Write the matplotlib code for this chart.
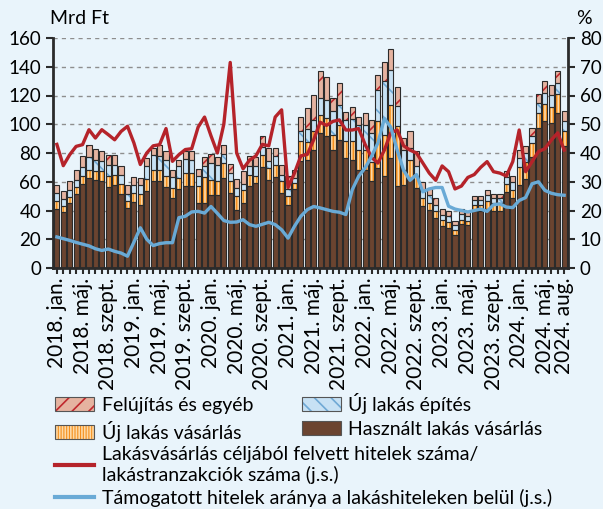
import numpy as np
import matplotlib
matplotlib.use('Agg')
import matplotlib.pyplot as plt
from matplotlib.patches import Patch
from matplotlib.lines import Line2D

plt.rcParams['font.family'] = ['Lato', 'DejaVu Sans']
plt.rcParams['hatch.linewidth'] = 1.2

# Havi adatok: 2018. jan. - 2024. aug. (80 hónap)
hasznalt = [41.3, 39.0, 45.2, 51.5, 58.7, 62.4, 61.4, 60.3, 56.1, 58.0,
            51.7, 41.7, 45.7, 44.0, 53.3, 60.8, 60.8, 56.3, 48.7, 55.0,
            56.8, 57.3, 45.2, 45.2, 51.0, 51.0, 62.6, 52.2, 40.6, 45.2,
            56.8, 59.1, 70.3, 61.4, 63.1, 52.2, 44.0, 55.0, 74.2, 75.0,
            81.9, 93.9, 92.0, 82.3, 89.3, 76.5, 74.9, 68.4, 68.4, 60.3,
            69.6, 63.8, 76.5, 56.8, 58.0, 62.6, 55.7, 43.0, 40.5, 35.0,
            29.5, 28.0, 23.0, 30.5, 30.0, 40.0, 39.4, 41.0, 40.0, 40.0,
            52.6, 48.7, 58.0, 62.0, 77.0, 97.4, 102.0, 101.0, 107.8, 85.0]
uj_vasarlas = [5.1, 3.9, 4.2, 4.6, 5.1, 6.0, 6.1, 6.9, 7.7, 6.5,
               7.0, 4.7, 6.5, 7.7, 8.8, 7.6, 7.6, 7.5, 7.0, 7.6,
               9.3, 8.8, 11.8, 18.1, 10.4, 9.3, 10.4, 8.1, 9.3, 9.3,
               8.1, 4.7, 8.5, 8.2, 8.8, 8.1, 6.0, 4.1, 13.9, 13.0,
               13.1, 12.8, 12.3, 10.5, 10.4, 12.1, 13.2, 13.9, 13.9, 13.2,
               32.4, 29.0, 37.1, 41.8, 10.0, 12.8, 8.1, 6.0, 5.0, 4.5,
               4.0, 4.0, 3.5, 3.0, 3.0, 4.0, 4.6, 5.5, 5.0, 5.0,
               5.9, 5.8, 12.5, 12.0, 10.0, 10.6, 12.0, 11.0, 13.2, 10.0]
uj_epites = [5.8, 5.1, 4.9, 5.3, 6.5, 8.6, 7.9, 7.0, 7.6, 6.9,
             6.3, 5.1, 5.8, 6.3, 8.6, 10.0, 9.7, 11.6, 7.6, 8.1,
             9.7, 9.3, 7.0, 7.4, 11.6, 11.6, 6.3, 5.8, 5.8, 4.2,
             5.8, 6.9, 5.4, 4.6, 5.8, 4.6, 5.0, 3.5, 6.9, 9.0,
             8.2, 11.6, 12.8, 16.2, 13.9, 14.1, 15.6, 17.4, 17.4, 20.4,
             22.0, 37.1, 24.4, 13.9, 14.0, 8.1, 6.9, 5.0, 5.5, 4.5,
             3.5, 4.0, 3.5, 4.0, 3.0, 3.0, 3.0, 4.0, 3.5, 3.7,
             4.5, 5.5, 6.0, 6.0, 5.0, 7.0, 8.0, 8.5, 8.0, 7.0]
felujitas = [5.3, 5.3, 6.0, 7.0, 7.4, 8.3, 7.4, 7.2, 7.0, 7.0,
             5.7, 6.0, 5.5, 4.6, 5.8, 5.1, 7.2, 6.2, 5.1, 4.2,
             5.4, 5.8, 4.9, 6.3, 6.3, 5.3, 6.5, 6.2, 6.2, 8.5,
             7.4, 6.3, 7.8, 9.3, 5.8, 7.0, 8.8, 5.8, 10.0, 14.0,
             17.4, 18.5, 15.5, 9.3, 15.1, 5.6, 8.3, 5.3, 8.1, 9.3,
             10.0, 13.4, 14.3, 13.4, 8.4, 11.6, 10.5, 5.6, 4.7, 4.7,
             4.0, 3.9, 2.9, 3.5, 2.7, 3.0, 3.0, 3.5, 3.2, 3.0,
             4.2, 3.8, 5.4, 5.1, 5.4, 6.3, 7.9, 7.0, 7.8, 7.0]
# jobb skála (%)
hitel_tranz = [43.0, 35.6, 39.4, 42.3, 42.9, 48.1, 45.2, 48.1, 46.4, 44.6,
               47.5, 49.3, 43.5, 36.0, 40.0, 42.5, 42.9, 48.5, 37.1, 39.4,
               41.2, 41.5, 49.0, 52.5, 46.0, 40.0, 50.0, 71.5, 40.0, 34.5,
               37.5, 39.0, 43.0, 42.5, 52.5, 55.0, 28.0, 33.0, 39.0, 39.5,
               44.6, 50.7, 49.6, 51.0, 51.5, 48.0, 48.0, 48.5, 43.0, 38.5,
               36.5, 41.0, 47.0, 48.0, 42.5, 41.0, 40.0, 36.5, 33.0, 30.5,
               35.5, 33.5, 27.5, 28.5, 31.5, 32.5, 35.0, 37.0, 33.5, 33.0,
               32.0, 37.0, 48.0, 33.5, 37.0, 40.5, 41.5, 44.5, 47.0, 41.0]
tamogatott = [10.8, 10.2, 9.6, 8.9, 8.3, 7.7, 6.7, 6.1, 6.6, 5.8,
              5.2, 4.1, 9.0, 14.0, 10.0, 7.8, 8.5, 8.8, 8.8, 17.5,
              18.0, 19.5, 19.7, 19.1, 21.4, 19.0, 16.5, 15.9, 16.0, 16.8,
              15.1, 14.5, 15.2, 15.9, 15.1, 13.3, 10.4, 14.5, 18.0, 20.3,
              21.4, 20.9, 20.3, 19.7, 19.4, 18.6, 27.2, 31.9, 34.8, 38.8,
              43.5, 52.0, 49.0, 41.0, 34.0, 30.5, 32.5, 26.5, 27.5, 28.0,
              28.0, 21.5, 20.5, 20.0, 19.5, 20.0, 20.5, 19.7, 22.0, 22.3,
              21.2, 21.0, 23.5, 24.5, 29.3, 30.0, 27.0, 26.0, 25.5, 25.3]

tick_pos = list(range(0, 80, 4)) + [79]
tick_labels = ['2018. jan.', '2018. máj.', '2018. szept.', '2019. jan.',
               '2019. máj.', '2019. szept.', '2020. jan.', '2020. máj.',
               '2020. szept.', '2021. jan.', '2021. máj.', '2021. szept.',
               '2022. jan.', '2022. máj.', '2022. szept.', '2023. jan.',
               '2023. máj.', '2023. szept.', '2024. jan.', '2024. máj.',
               '2024. aug.']

bg = '#E9F4FB'
c_brown = '#6B4430'
c_orange = '#F5901E'
c_orange_h = '#FDD9A6'
c_blue = '#C7E1F4'
c_blue_h = '#6FA9D5'
c_pink = '#E5B3A0'
c_pink_h = '#C0282D'
c_red = '#B5232A'
c_line_blue = '#69AAD6'
c_edge = '#2B2B2B'
fs = 14

fig = plt.figure(figsize=(6.03, 5.09), dpi=100, facecolor=bg)
ax = fig.add_axes([53 / 603, 1 - 268 / 509, 515 / 603, 230 / 509])
ax.set_facecolor(bg)

x = np.arange(len(hasznalt))
w = 0.8
layers = [
    (hasznalt, c_brown, None, c_brown),
    (uj_vasarlas, c_orange, '|||||', c_orange_h),
    (uj_epites, c_blue, '\\', c_blue_h),
    (felujitas, c_pink, '/', c_pink_h),
]
bottom = np.zeros(len(x))
for vals, fc, hatch, hc in layers:
    vals = np.array(vals)
    ax.bar(x, vals, w, bottom=bottom, color=fc, hatch=hatch,
           edgecolor=hc, linewidth=0, zorder=2)
    ax.bar(x, vals, w, bottom=bottom, fill=False, edgecolor=c_edge,
           linewidth=0.8, zorder=3)
    bottom += vals

ax.set_xlim(-0.6, len(x) - 0.4)
ax.set_ylim(0, 160)
ax.set_yticks(range(0, 161, 20))
ax.set_axisbelow(True)
ax.grid(axis='y', color='#8E8E8E', linestyle=(0, (3, 3)), linewidth=1)
ax.set_xticks(tick_pos)
ax.set_xticklabels(tick_labels, rotation=90)
ax.set_xticks(x, minor=True)
ax.tick_params(axis='x', which='both', direction='out', length=4, width=1.5,
               labelsize=15, color=c_edge, pad=3)
ax.tick_params(axis='y', direction='out', length=5, width=1.5, labelsize=13.5,
               color=c_edge)
for s in ['top', 'right']:
    ax.spines[s].set_visible(False)
for s in ['left', 'bottom']:
    ax.spines[s].set_linewidth(2)
    ax.spines[s].set_color(c_edge)

ax2 = ax.twinx()
ax2.plot(x, hitel_tranz, color=c_red, linewidth=2.4, zorder=4)
ax2.plot(x, tamogatott, color=c_line_blue, linewidth=2.4, zorder=4)
ax2.set_ylim(0, 80)
ax2.set_yticks(range(0, 81, 10))
ax2.tick_params(axis='y', direction='out', length=5, width=1.5, labelsize=13.5,
                color=c_edge)
for s in ['top', 'left', 'bottom']:
    ax2.spines[s].set_visible(False)
ax2.spines['right'].set_linewidth(2)
ax2.spines['right'].set_color(c_edge)

fig.text(50 / 603, 1 - 18 / 509, 'Mrd Ft', ha='left', va='center', fontsize=fs)
fig.text(592 / 603, 1 - 18 / 509, '%', ha='right', va='center', fontsize=fs)


def hatched(fc, hatch, hc):
    return (Patch(facecolor=fc, hatch=hatch, edgecolor=hc, linewidth=0),
            Patch(fill=False, edgecolor='#555555', linewidth=0.8))


# oszlopfolytonos sorrend: 1. oszlop felújítás, új vásárlás; 2. oszlop építés, használt
bar_handles = [hatched(c_pink, '//', c_pink_h),
               hatched(c_orange, '||||||', c_orange_h),
               hatched(c_blue, '\\\\', c_blue_h),
               hatched(c_brown, None, c_brown)]
bar_labels = ['Felújítás és egyéb', 'Új lakás vásárlás',
              'Új lakás építés', 'Használt lakás vásárlás']
fig.legend(bar_handles, bar_labels, ncol=2, loc='upper left',
           bbox_to_anchor=(55 / 603, 1 - 393 / 509), frameon=False,
           fontsize=fs, handlelength=2.0, handleheight=0.7,
           handletextpad=0.4, columnspacing=2.5, labelspacing=0.35,
           borderaxespad=0, borderpad=0)

line_handles = [Line2D([], [], color=c_red, linewidth=3),
                Line2D([], [], color=c_line_blue, linewidth=3)]
line_labels = ['Lakásvásárlás céljából felvett hitelek száma/\nlakástranzakciók száma (j.s.)',
               'Támogatott hitelek aránya a lakáshiteleken belül (j.s.)']
fig.legend(line_handles, line_labels, loc='upper left',
           bbox_to_anchor=(55 / 603, 1 - 446 / 509), frameon=False,
           fontsize=fs, handlelength=2.0, handletextpad=0.4,
           labelspacing=0.25, borderaxespad=0, borderpad=0)

fig.savefig('out.png', dpi=100, facecolor=bg)
